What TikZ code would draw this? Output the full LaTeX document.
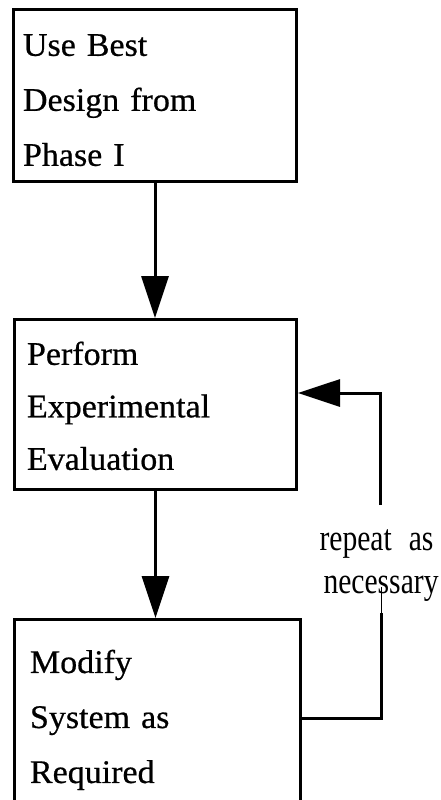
\documentclass[tikz,border=0pt]{standalone}
\usepackage{fontspec}
\setmainfont{Liberation Serif}[FakeStretch=1.03,FakeBold=0.6]
\newfontfamily\narrowfont{Liberation Serif}[FakeStretch=0.8]
\usetikzlibrary{arrows.meta,positioning}
\tikzset{
  basic/.style   = {draw, rectangle, line width=3pt, align=left,
                    font=\fontsize{33}{55}\selectfont},
  top box/.style = {basic, text width=264pt, inner xsep=9.5pt,
                    minimum height=172pt, text height=31pt},
  mid box/.style = {basic, text width=257pt, inner xsep=12.5pt,
                    minimum height=170pt, text height=26pt,
                    font=\fontsize{33}{52.5}\selectfont},
  end box/.style = {basic, text width=255pt, inner xsep=15.5pt,
                    minimum height=190pt, text height=34pt},
  remark/.style  = {font=\narrowfont\fontsize{37}{44}\selectfont,
                    anchor=base west, inner sep=0pt}
}

\begin{document}
\begin{tikzpicture}[x=1pt, y=-1pt, line width=3pt,
  >={Triangle[length=42pt,width=27pt]}]
\useasboundingbox (0,0) rectangle (441,800);
\clip (0,0) rectangle (441,800);

% the three steps, one below the other
\node[top box] (best) at (155,95.5) {Use Best\\Design from\\Phase I};
\node[mid box, below=135pt of best, xshift=0.5pt] (eval)
  {Perform\\Experimental\\Evaluation};
\node[end box, below=127pt of eval, xshift=2pt] (modify)
  {Modify\\System as\\Required};

% arrows going down
\draw[->] (best.south) -- (best.south |- eval.north);
\draw[->] (eval.south) -- (eval.south |- modify.north);

% the loop back from the last step, broken by its label
\coordinate (bend low) at (381,718);
\coordinate (gap low) at (381,613);
\coordinate (gap high) at (381,587);
\coordinate (gap top) at (380,505);
\coordinate (bend high) at (380,393);

\draw (modify.east |- bend low) -- (bend low) -- (gap low);
\draw[line width=1pt] (gap low) -- (gap high);
\draw[->] (gap top) -- (bend high) -- (eval.east |- bend high);

\node[remark] (again) at (318,550) {repeat\hspace{17pt}as};
\node[remark] (needed) at (322,593) {necessary};
\end{tikzpicture}
\end{document}
